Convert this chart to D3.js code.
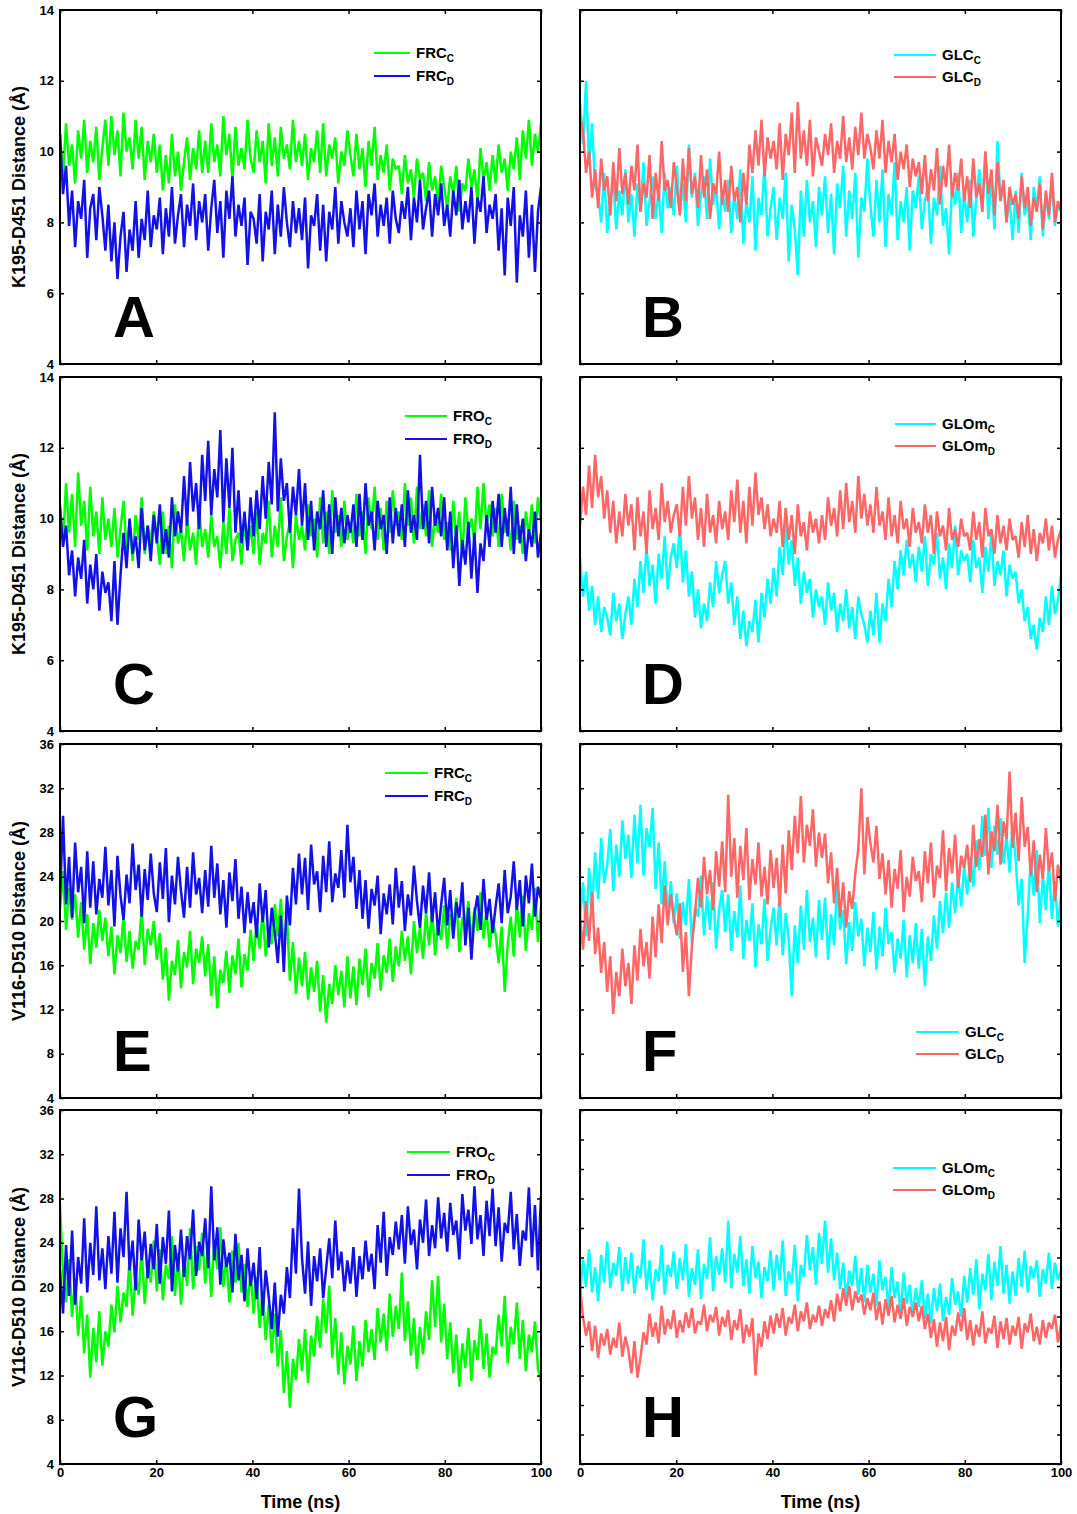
<!DOCTYPE html>
<html><head><meta charset="utf-8">
<script src="https://cdn.jsdelivr.net/npm/d3@7"></script>
<style>
body{margin:0;background:#fff}
text{font-family:"Liberation Sans",Arial,sans-serif;font-weight:bold;fill:#000}
</style>
</head><body>
<svg id="c" width="1077" height="1514"></svg>
<script>
// ---------- axes / labels ----------
const timeDomain = [0, 100];
const xTickValues = [0, 20, 40, 60, 80, 100];
const kDomain = [4, 14];
const kTicks = [4, 6, 8, 10, 12, 14];
const vDomain = [4, 36];
const vTicks = [4, 8, 12, 16, 20, 24, 28, 32, 36];
const yTitles = ["K195-D451 Distance (Å)", "K195-D451 Distance (Å)", "V116-D510 Distance (Å)", "V116-D510 Distance (Å)"];
const xTitle = "Time (ns)";
const panelLetters = ["A", "B", "C", "D", "E", "F", "G", "H"];
const legendNames = [["FRC","FRC"],["GLC","GLC"],["FRO","FRO"],["GLOm","GLOm"],["FRC","FRC"],["GLC","GLC"],["FRO","FRO"],["GLOm","GLOm"]];
const legendSubs = ["C", "D"];

// ---------- series (distance in Å, uniformly sampled over 0-100 ns) ----------
const frcC_A = [10.5,9.3,10.8,9.6,10.2,9.1,10.6,9.8,10.9,9.4,10.3,9.7,10.7,9.2,10.1,10.9,
9.6,11.0,9.9,10.6,9.3,11.1,10.0,10.4,9.5,10.9,9.8,10.7,9.2,10.3,9.7,10.5,
9.4,10.2,8.9,9.9,9.1,10.5,9.3,10.0,8.9,9.7,10.4,9.2,10.1,9.5,10.6,9.4,
10.3,9.4,10.8,9.7,10.2,9.3,11.0,9.9,10.5,9.2,10.7,9.6,10.1,9.5,10.9,9.8,
9.4,10.6,9.7,10.3,9.1,10.8,9.6,10.4,9.3,10.7,9.8,10.2,9.5,10.9,9.7,10.3,
9.6,10.5,9.2,10.1,9.7,10.6,9.4,10.8,9.3,10.2,9.8,10.4,9.1,10.0,9.6,10.6,
9.9,9.3,10.5,9.5,10.1,9.0,10.3,9.6,10.7,9.2,9.9,9.4,10.2,8.9,9.8,9.5,
9.6,8.8,9.9,9.1,9.5,8.7,9.8,9.2,9.4,8.6,9.7,8.9,9.3,8.5,9.6,9.0,
8.4,9.3,8.8,9.6,8.3,9.1,8.9,9.8,9.0,9.5,8.6,10.1,9.2,9.7,8.9,9.9,
9.1,10.2,9.4,9.8,8.9,10.0,9.5,10.4,9.2,10.6,9.8,10.9,9.6,10.5,10.0,10.8];
const frcD_A = [10.5,8.8,9.6,7.9,8.9,7.3,8.6,8.1,9.2,7.0,8.4,8.8,7.5,9.0,8.2,7.2,
8.5,6.9,8.0,6.4,7.6,8.3,6.6,7.8,7.2,8.6,7.0,8.1,7.5,8.9,7.3,8.2,
7.8,8.7,7.1,8.4,7.6,9.0,7.4,8.2,8.8,7.3,8.5,7.9,9.1,7.5,8.6,8.0,
8.8,7.2,8.4,9.2,7.7,8.6,7.0,8.9,8.1,9.3,7.6,8.5,7.9,8.7,6.8,8.3,
8.1,7.4,8.8,6.9,8.3,7.8,8.9,7.1,8.5,7.6,9.0,8.0,7.3,8.6,7.7,8.4,
7.5,8.7,6.7,8.2,7.9,8.8,7.2,8.5,6.9,8.3,7.8,9.0,7.4,8.6,8.0,7.6,
8.4,7.3,8.9,7.8,8.6,7.1,8.8,8.2,9.1,7.6,8.5,7.9,8.7,7.4,8.9,8.1,
7.7,8.6,8.1,9.0,7.5,8.7,8.0,9.2,7.8,8.4,8.9,7.6,8.8,8.2,9.1,7.9,
8.5,7.6,8.9,8.2,9.2,7.8,8.6,8.0,9.0,7.4,8.7,8.3,9.3,7.7,8.5,8.1,
8.8,7.2,8.4,6.5,8.7,7.9,9.0,6.3,8.2,7.6,8.9,7.0,8.5,6.6,8.3,9.0];
const glcC_B = [11.4,10.2,12.0,9.6,10.8,9.0,8.8,8.0,9.4,7.7,8.6,9.2,7.8,8.9,8.2,9.5,
8.0,8.8,7.6,9.1,8.3,9.7,7.9,8.6,9.3,8.1,8.9,7.7,9.4,8.4,9.0,8.2,
9.6,8.3,9.1,8.0,10.2,8.7,9.4,7.9,8.8,9.3,8.1,9.8,8.5,9.0,7.8,8.9,
8.3,9.2,7.7,8.8,8.1,9.5,7.4,8.6,8.0,9.3,7.2,8.7,8.2,9.6,7.6,8.4,
9.0,7.5,8.7,8.1,9.4,6.9,8.5,7.8,6.5,8.9,7.6,9.2,8.0,8.6,7.3,9.0,
8.2,9.3,7.7,8.8,7.1,9.1,8.4,9.6,7.6,8.9,8.1,9.4,7.0,8.7,8.3,9.8,
8.5,7.6,9.2,8.0,9.5,7.3,8.8,8.2,9.7,7.5,8.6,8.0,9.0,7.2,8.9,8.4,
9.3,7.8,8.6,9.0,7.4,8.7,8.2,9.6,7.9,8.4,7.1,9.1,8.5,9.4,7.7,8.8,
8.0,9.2,7.6,8.7,9.5,8.3,10.0,8.1,9.3,7.8,10.3,8.6,9.1,8.0,8.7,7.5,
8.9,7.7,9.4,8.2,8.6,7.5,9.0,8.4,9.3,7.6,8.8,8.1,9.2,7.9,8.5,8.3];
const glcD_B = [11.0,10.6,9.4,10.0,8.7,9.5,8.4,9.8,8.9,9.3,8.2,9.7,8.6,10.1,8.8,9.4,
8.5,9.6,8.9,10.2,8.3,9.1,8.7,9.9,8.1,9.4,8.6,10.3,8.9,9.2,8.4,9.7,
9.0,8.2,9.8,8.6,10.1,8.8,9.3,8.4,9.9,8.7,9.5,8.1,9.1,8.8,10.0,8.5,
9.2,8.3,9.6,8.6,9.0,8.0,9.4,8.5,10.2,9.4,10.6,9.6,10.9,9.3,10.4,9.8,
10.3,9.5,10.8,9.2,10.5,9.9,11.1,9.4,11.4,9.8,10.6,9.6,10.9,9.3,10.4,10.0,
9.6,10.5,9.9,10.8,9.4,10.3,9.8,11.0,9.7,10.4,9.5,10.7,9.9,11.1,9.8,10.5,
10.1,9.5,10.6,9.8,10.9,9.4,10.3,9.7,10.5,9.2,10.0,9.5,10.2,9.0,9.8,9.3,
9.7,8.8,9.9,8.6,9.5,8.9,10.1,8.5,9.6,9.0,10.2,8.7,9.4,8.9,9.8,8.6,
9.3,8.4,9.8,8.7,9.1,8.3,10.0,8.8,9.5,8.2,9.7,8.6,9.2,8.0,9.0,8.5,
8.8,8.1,9.3,8.4,9.0,7.9,8.7,8.3,9.1,7.8,8.9,8.2,9.4,8.0,8.6,8.3];
const froC_C = [10.4,9.3,11.0,9.6,10.7,9.2,11.3,9.8,10.5,9.1,10.9,9.5,10.2,9.0,10.6,9.4,
10.0,9.2,10.3,8.9,9.7,10.5,9.1,9.9,8.8,10.1,9.4,10.6,9.0,9.8,9.3,10.2,
9.5,8.7,10.2,9.0,9.8,8.6,10.4,9.3,9.7,8.8,10.0,9.1,9.6,8.7,10.3,9.2,
9.7,8.9,10.1,9.2,9.5,8.6,9.9,9.0,10.3,8.8,9.4,9.6,8.7,10.0,9.1,9.8,
9.0,10.2,8.7,9.6,9.3,10.5,8.9,9.8,9.2,10.6,8.8,9.5,9.9,8.6,10.1,9.4,
9.8,9.1,10.4,9.5,10.0,8.9,10.6,9.3,10.2,9.0,10.8,9.6,10.1,9.2,10.5,9.4,
9.9,9.3,10.7,9.5,10.2,9.0,10.6,9.7,10.9,9.4,10.3,9.1,10.5,9.6,10.8,9.8,
10.2,9.4,11.0,9.8,10.6,9.3,10.9,9.7,10.4,9.5,10.8,9.2,10.1,9.6,10.7,9.4,
9.9,9.1,10.5,9.4,10.2,8.9,10.6,9.6,10.0,9.3,10.9,9.7,11.0,9.8,10.4,9.5,
10.3,9.2,10.7,9.6,10.0,9.1,10.5,9.4,9.8,9.0,10.2,9.5,10.4,9.3,10.6,9.9];
const froD_C = [10.3,9.2,9.8,8.4,9.1,7.8,8.9,8.3,9.4,7.6,8.7,8.0,9.0,7.4,8.5,7.9,
8.2,7.1,8.8,7.0,8.4,9.6,8.6,10.0,9.0,9.5,8.6,10.3,9.1,9.8,8.8,10.1,
9.3,10.4,9.0,9.7,8.9,10.6,9.5,10.2,9.6,11.2,9.8,11.6,10.2,11.0,9.7,11.8,
10.5,12.2,10.1,11.4,10.6,12.5,9.9,11.7,10.3,12.0,9.6,10.8,9.3,10.2,9.1,10.6,
9.5,10.8,9.7,11.2,10.0,11.6,10.4,13.0,10.2,11.7,10.5,11.0,9.6,10.9,10.1,11.4,
9.8,11.0,9.4,10.5,9.1,10.2,9.7,10.8,9.2,10.4,9.0,10.6,9.5,10.3,9.3,10.1,
9.6,10.4,9.2,10.7,9.4,11.0,9.8,10.2,9.1,10.5,9.7,10.1,9.0,10.6,9.3,10.3,
9.5,10.4,9.2,10.8,9.6,10.1,9.4,11.8,9.7,10.5,9.3,10.9,9.8,10.3,9.5,10.6,
9.1,10.2,8.6,9.8,8.1,9.4,8.7,9.9,8.3,9.6,7.9,9.3,8.8,10.1,9.2,10.5,
9.6,10.7,9.2,10.3,9.5,10.9,9.0,10.4,9.3,10.0,8.8,9.7,9.2,10.2,8.9,9.6];
const glomC_D = [8.9,7.8,8.5,7.4,8.1,7.0,7.8,6.8,7.5,7.2,6.7,7.9,7.1,7.6,6.6,7.3,
7.8,7.0,8.3,7.5,8.8,7.9,9.2,8.1,8.7,7.6,9.0,8.3,9.5,8.0,8.9,9.3,
8.6,9.8,8.2,9.1,7.8,8.5,7.2,8.0,6.9,7.6,7.1,8.2,7.5,8.8,7.9,8.4,
8.8,7.6,8.2,7.0,7.8,6.6,7.4,6.4,7.1,6.8,7.7,6.5,7.9,7.2,8.3,7.6,
8.6,7.8,9.2,8.4,9.9,8.7,9.4,8.1,8.9,7.6,8.5,7.9,8.3,7.2,8.0,7.5,
7.8,7.0,8.2,7.4,7.9,6.8,7.6,7.1,8.0,6.9,7.5,6.6,7.8,7.3,7.0,6.5,
7.4,6.7,7.9,6.5,7.6,7.1,8.3,7.5,8.8,8.0,9.1,8.4,9.4,8.6,9.0,8.2,
9.2,8.5,9.5,8.1,9.0,8.7,9.6,8.3,8.9,8.0,9.3,8.6,9.8,8.4,9.1,8.8,
9.0,8.2,9.4,8.6,8.9,7.9,9.2,8.5,9.6,8.1,8.8,8.4,9.1,7.8,8.7,8.3,
8.5,7.6,8.0,7.1,7.5,6.6,7.0,6.3,7.2,6.8,7.8,7.0,8.1,7.3,7.7,8.4];
const glomD_D = [9.8,10.9,10.1,11.5,10.3,11.8,10.6,11.2,10.0,10.8,9.6,10.5,9.3,10.2,9.5,10.7,
9.8,10.4,9.1,10.6,9.5,10.2,9.0,10.8,9.7,10.3,9.4,11.0,9.9,10.5,9.6,10.1,
10.4,9.5,10.9,9.8,11.2,10.0,10.6,9.4,10.3,9.2,10.7,9.6,10.1,9.3,10.5,9.7,
10.2,9.4,10.8,9.9,11.1,9.6,10.5,9.3,10.9,9.8,11.3,10.1,10.6,9.7,10.4,9.5,
10.0,9.6,10.5,9.2,10.3,9.4,10.1,9.0,10.4,9.5,9.9,9.1,10.2,9.6,10.0,9.3,
10.1,9.4,10.6,9.8,10.3,9.5,10.8,9.7,11.0,9.9,10.5,9.6,11.2,10.0,10.7,9.8,
10.4,9.6,10.9,9.8,10.2,9.4,10.6,9.5,10.1,9.3,10.5,9.7,10.0,9.2,10.3,9.6,
9.9,9.3,10.4,9.6,10.1,9.0,10.2,9.5,9.8,9.1,10.3,9.4,9.7,9.2,10.0,9.5,
9.6,9.1,10.2,9.4,9.9,8.9,10.3,9.5,9.7,9.0,10.1,9.3,9.8,9.1,10.0,9.4,
9.5,8.9,9.9,9.2,10.1,9.0,9.7,8.8,9.6,9.3,10.0,9.1,9.8,8.9,9.4,9.7];
const frcC_E = [21.0,24.5,19.2,23.0,20.1,22.4,18.5,21.7,17.4,20.6,16.1,19.8,17.6,21.0,18.2,20.3,
16.8,19.5,15.2,18.7,17.1,20.4,16.3,19.1,15.7,18.2,17.4,21.2,16.0,19.3,17.8,20.0,
16.5,18.9,14.7,17.6,12.8,16.4,15.1,18.3,13.9,17.2,15.8,19.1,14.3,17.5,16.2,18.6,
15.0,17.9,13.2,16.8,12.1,15.6,14.4,17.3,13.5,16.9,15.2,18.4,14.0,17.0,15.5,19.2,
16.4,19.8,17.5,20.9,16.8,19.3,17.9,21.5,18.6,22.0,17.2,20.6,14.6,18.1,13.4,16.7,
14.1,17.2,12.9,15.8,13.6,16.4,11.8,15.1,10.8,14.3,12.5,16.0,13.3,15.5,12.2,16.8,
13.0,15.9,12.4,16.6,14.2,17.5,13.1,16.2,14.8,18.0,13.7,16.9,15.3,18.4,14.5,17.7,
15.9,19.1,16.4,18.6,15.2,20.0,17.1,19.5,16.6,20.8,17.8,21.1,16.9,19.7,18.3,21.4,
17.5,20.6,18.8,22.1,17.2,20.3,19.4,21.8,18.0,21.2,19.1,22.6,18.4,20.9,17.6,20.1,
18.8,16.2,19.5,13.6,17.9,20.4,16.8,21.6,18.5,22.3,17.3,20.7,19.2,23.0,18.1,21.3];
const frcD_E = [22.0,29.5,21.5,25.8,20.3,27.1,22.6,24.9,19.8,26.3,21.2,25.4,20.6,23.8,22.1,26.7,
21.4,24.6,19.5,25.9,22.3,20.1,24.2,21.6,27.0,22.8,25.1,20.4,24.7,21.9,26.1,22.5,
20.8,25.3,22.0,26.6,19.9,24.1,21.5,25.8,22.7,20.3,24.9,21.2,26.2,22.4,23.9,20.7,
24.6,21.3,26.8,22.1,25.2,20.6,23.7,19.4,24.4,21.8,25.6,20.2,23.1,18.9,22.6,19.8,
21.7,18.5,23.4,19.9,22.8,17.6,21.2,19.0,16.2,20.5,15.4,22.3,19.6,24.8,21.5,26.1,
22.4,25.7,21.0,26.9,23.3,24.5,20.8,25.9,22.6,27.2,21.7,24.3,23.0,26.4,22.1,28.7,
23.5,25.8,21.1,24.6,20.2,23.7,19.3,22.9,21.4,24.1,18.8,22.5,20.6,23.3,19.7,24.8,
21.2,23.6,19.1,22.4,20.5,25.0,21.8,19.4,23.2,20.7,24.4,19.9,22.6,18.7,21.5,23.9,
19.6,22.8,18.4,21.7,20.3,23.5,17.8,21.2,16.5,20.6,22.3,19.2,23.8,20.1,22.0,18.9,
21.3,23.4,19.8,24.6,20.7,22.2,25.4,21.0,23.7,19.5,24.1,21.6,25.2,20.4,23.1,22.0];
const glcC_F = [20.2,23.5,18.6,24.8,21.3,26.2,22.0,27.5,23.4,25.1,28.3,22.7,26.9,24.0,29.1,25.6,
27.8,23.9,29.6,25.2,30.5,24.1,28.4,26.7,30.2,22.9,27.1,21.5,25.4,20.3,23.6,19.8,
22.5,18.4,21.7,19.6,23.8,17.9,21.2,20.4,24.1,18.7,22.3,19.2,23.5,17.5,21.0,22.8,
19.0,22.4,17.3,20.9,18.5,23.2,16.6,20.1,18.2,21.6,15.8,19.7,17.9,22.0,16.4,19.3,
21.2,17.8,22.5,16.9,20.7,18.4,13.2,19.6,16.2,21.4,17.4,22.8,18.1,20.3,16.7,21.9,
18.3,22.1,16.5,20.6,17.8,23.4,19.2,21.0,16.1,19.9,17.3,21.7,18.6,20.2,15.9,19.4,
17.2,20.8,15.6,19.5,16.8,21.2,17.9,19.0,15.3,18.4,16.6,20.1,14.9,18.7,16.2,19.8,
15.7,19.3,14.1,18.6,16.4,20.5,17.5,21.8,18.9,22.6,19.4,23.5,20.7,24.2,21.3,25.0,
22.4,25.8,23.1,27.3,24.6,29.5,25.9,30.2,24.8,28.6,26.0,29.3,25.2,27.7,24.4,28.9,
25.6,21.4,23.8,16.2,20.5,25.7,22.3,26.4,19.8,24.1,21.0,25.3,20.2,23.6,19.5,22.4];
const glcD_F = [20.5,17.4,21.8,18.2,22.6,17.0,19.4,15.3,18.1,13.6,16.8,11.6,15.4,13.2,17.5,14.1,
16.2,12.5,17.8,14.6,19.3,15.9,18.1,14.8,20.4,16.7,21.5,18.0,23.2,19.6,22.4,20.3,
18.7,21.6,15.4,19.0,13.2,17.8,20.6,23.9,21.2,25.8,22.4,24.6,21.0,26.3,23.1,27.2,
22.6,31.4,24.0,27.5,22.1,26.8,23.7,28.4,21.9,25.6,23.3,27.1,22.2,24.9,21.5,26.4,
23.0,25.7,21.3,26.9,22.5,28.2,24.6,29.5,26.1,31.3,25.3,28.7,26.8,30.1,24.9,28.0,
25.7,27.9,23.4,26.2,21.6,24.8,20.3,23.5,19.4,22.7,21.1,24.3,26.5,32.0,24.2,29.4,
27.0,25.3,28.6,23.8,26.1,22.4,25.5,21.2,24.7,22.9,26.4,20.8,24.0,22.2,25.8,23.6,
24.5,21.7,26.3,23.4,27.1,22.1,25.0,23.9,28.2,22.7,26.6,24.3,27.8,23.0,25.9,24.8,
26.9,23.5,28.7,24.9,27.4,25.8,29.6,24.2,28.1,26.3,30.5,25.1,29.0,27.4,33.5,26.6,
29.8,25.4,31.2,26.7,28.5,24.1,27.3,22.6,26.0,23.8,28.4,24.5,26.2,21.8,25.1,23.4];
const froC_G = [27.4,21.2,18.6,22.5,17.3,20.8,15.6,19.2,14.0,17.5,11.8,16.3,13.2,17.8,12.9,16.0,
14.6,18.4,15.9,20.1,16.8,19.5,18.2,22.6,17.4,21.0,19.3,23.5,18.5,22.1,20.4,24.2,
19.6,23.4,18.8,22.0,20.7,24.6,19.2,23.1,18.4,22.8,20.1,25.3,19.8,23.7,21.5,24.9,
20.3,23.8,19.1,24.2,21.6,25.4,20.0,22.7,18.6,23.3,20.4,24.0,19.5,22.1,18.2,21.4,
17.6,20.9,16.3,19.5,15.2,18.4,14.0,17.6,12.8,16.1,10.4,14.2,9.1,13.5,11.6,15.3,
12.4,16.2,11.3,15.6,13.7,17.4,14.5,18.9,15.8,20.1,13.6,17.2,12.1,15.9,11.2,14.7,
13.0,16.5,11.5,15.1,12.8,17.0,14.1,16.2,13.4,18.1,15.0,17.6,14.2,19.4,15.5,18.3,
16.2,21.3,15.1,18.7,13.8,17.2,12.6,16.4,13.9,17.8,15.2,20.6,16.4,21.0,15.0,18.5,
13.5,16.8,12.2,15.7,11.0,14.9,12.7,16.3,11.5,15.2,13.4,17.1,12.6,15.8,11.8,14.6,
13.9,17.5,14.6,19.2,13.1,16.4,14.8,18.6,13.5,17.0,12.4,15.7,14.1,16.9,12.6,11.4];
const froD_G = [21.5,17.6,23.8,19.2,25.1,18.4,22.7,20.3,26.2,19.5,24.0,21.1,27.3,20.6,23.5,19.8,
24.6,21.2,26.8,20.4,25.3,22.7,28.6,21.5,24.2,19.7,26.1,22.4,25.0,20.8,23.9,21.6,
25.7,20.3,24.5,22.1,26.9,19.6,23.8,21.4,25.2,20.9,24.6,22.5,27.0,21.0,24.1,22.8,
26.2,21.7,29.1,22.4,25.4,20.2,24.3,21.8,23.1,19.5,24.8,20.6,22.9,18.7,23.5,20.1,
22.2,18.9,23.6,17.4,21.5,19.1,16.2,20.4,15.5,19.3,17.6,21.8,19.0,25.3,21.2,28.9,
22.6,19.4,24.1,18.3,22.8,20.5,23.5,19.0,21.7,24.4,20.8,26.0,21.5,23.2,19.6,22.4,
20.3,23.6,19.1,22.8,20.7,24.2,21.4,23.0,19.8,25.6,22.2,26.8,21.0,24.5,22.9,25.9,
23.4,26.5,22.1,27.3,23.8,25.2,21.6,26.1,24.0,27.9,22.8,25.6,23.5,28.1,24.4,26.7,
23.2,27.6,24.7,26.0,22.5,28.4,25.1,27.0,23.9,29.1,24.3,26.5,22.8,27.8,24.6,28.9,
23.7,27.2,22.3,25.8,24.9,28.6,23.4,26.6,21.9,25.1,24.2,29.0,22.7,27.4,21.5,28.3];
const glomC_H = [19.2,22.5,20.0,23.4,19.5,21.8,18.7,22.9,20.4,24.1,19.9,22.2,21.0,23.6,19.6,22.7,
20.3,23.1,19.4,21.9,20.8,24.3,19.7,22.4,18.8,21.6,20.5,23.8,19.3,22.0,20.9,23.2,
19.8,22.6,20.6,23.9,19.1,21.7,20.2,23.4,18.9,22.1,20.7,24.5,19.6,22.8,21.1,23.5,
20.4,26.0,19.9,23.0,21.3,24.6,20.1,22.5,19.4,23.7,20.8,22.3,19.0,21.8,20.5,23.3,
19.7,22.9,20.6,24.2,19.2,21.4,20.3,23.8,18.7,22.0,20.9,24.7,21.5,23.6,20.2,24.9,
22.1,26.0,21.3,24.4,20.6,23.1,19.8,22.2,18.9,21.5,20.1,22.8,19.3,21.7,18.6,22.0,
19.5,21.2,18.3,22.4,19.7,20.9,18.1,21.8,19.0,20.5,17.6,21.3,18.5,20.2,17.4,19.9,
18.2,20.6,17.1,19.4,16.7,19.9,17.8,20.3,16.9,19.1,17.5,20.8,18.4,19.6,17.3,21.0,
18.6,21.7,19.3,22.5,18.0,21.2,19.7,23.0,18.8,22.3,20.1,23.7,19.4,22.0,18.5,21.4,
19.2,22.6,20.0,23.3,19.5,21.9,20.8,22.4,19.1,21.6,20.3,23.1,19.8,22.2,20.6,21.5];
const glomD_H = [20.0,17.3,15.6,16.9,14.2,16.5,13.6,15.8,14.7,16.2,13.9,15.4,14.5,16.8,13.7,15.5,
14.3,12.2,15.1,11.8,13.6,15.9,14.8,17.6,15.5,16.8,14.9,18.3,15.7,17.1,16.2,17.9,
15.4,17.0,15.9,17.7,16.3,18.1,15.8,16.9,16.6,18.4,16.0,17.5,16.8,18.2,15.6,17.3,
16.4,17.9,15.2,17.0,16.1,18.0,14.9,16.6,15.5,17.2,12.0,15.8,14.6,16.9,15.3,17.4,
15.8,17.6,16.3,18.1,15.6,17.3,16.7,18.4,16.0,17.8,16.9,18.6,16.2,17.5,16.8,18.3,
16.5,18.0,17.2,18.8,16.9,19.4,17.8,19.9,18.3,20.1,17.9,19.6,18.6,19.3,17.5,19.0,
17.9,19.5,17.0,18.7,16.6,18.9,17.4,19.2,16.8,18.4,17.1,19.0,16.5,18.2,17.3,18.6,
16.9,18.3,16.2,17.6,15.4,17.1,14.6,16.8,15.1,17.3,14.3,16.5,15.6,17.7,16.0,18.1,
15.2,17.0,14.7,16.6,15.5,17.8,14.9,16.3,15.8,17.4,14.5,16.9,15.3,17.2,14.8,16.5,
15.6,17.3,14.4,16.7,15.9,17.6,15.1,16.4,14.8,17.0,15.4,16.8,16.2,17.5,15.0,16.6];

// ---------- styling / layout ----------
const GREEN = "#00ff00", BLUE = "#1212e8", CYAN = "#00ffff", RED = "#ff6666";
const colX = [60, 580], rowY = [10, 377, 744, 1110], PW = 481, PH = 354;

const panels = [
  {col:0,row:0,domain:kDomain,ticks:kTicks,series:[frcC_A,frcD_A],colors:[GREEN,BLUE],leg:[374,53,23,36]},
  {col:1,row:0,domain:kDomain,ticks:kTicks,series:[glcC_B,glcD_B],colors:[CYAN,RED],leg:[894,55,22,42]},
  {col:0,row:1,domain:kDomain,ticks:kTicks,series:[froC_C,froD_C],colors:[GREEN,BLUE],leg:[405,416,23,42]},
  {col:1,row:1,domain:kDomain,ticks:kTicks,series:[glomC_D,glomD_D],colors:[CYAN,RED],leg:[895,424,22,41]},
  {col:0,row:2,domain:vDomain,ticks:vTicks,series:[frcC_E,frcD_E],colors:[GREEN,BLUE],leg:[385,773,23,43]},
  {col:1,row:2,domain:vDomain,ticks:vTicks,series:[glcC_F,glcD_F],colors:[CYAN,RED],leg:[916,1032,22,43]},
  {col:0,row:3,domain:vDomain,ticks:vTicks,series:[froC_G,froD_G],colors:[GREEN,BLUE],leg:[407,1152,23,43]},
  {col:1,row:3,domain:vDomain,ticks:vTicks,series:[glomC_H,glomD_H],colors:[CYAN,RED],leg:[893,1168,22,43],tickCount:12}
];

const svg = d3.select("#c");
const defs = svg.append("defs");

panels.forEach((p, pi) => {
  const x0 = colX[p.col], y0 = rowY[p.row];
  const x = d3.scaleLinear().domain(timeDomain).range([x0, x0 + PW]);
  const y = d3.scaleLinear().domain(p.domain).range([y0 + PH, y0]);
  const g = svg.append("g");
  const cid = "clip" + pi;
  defs.append("clipPath").attr("id", cid).append("rect")
    .attr("x", x0).attr("y", y0).attr("width", PW).attr("height", PH);

  p.series.forEach((data, si) => {
    const n = data.length;
    const line = d3.line()
      .x((d, i) => x(timeDomain[0] + i * (timeDomain[1] - timeDomain[0]) / (n - 1)))
      .y(d => y(d));
    g.append("path").attr("clip-path", `url(#${cid})`)
      .attr("d", line(data)).attr("fill", "none")
      .attr("stroke", p.colors[si]).attr("stroke-width", 2.5)
      .attr("stroke-linejoin", "miter").attr("stroke-miterlimit", 2);
  });

  // tick-mark scale (panel H has its own finer tick spacing, no labels)
  let tickY = y, tickVals = p.ticks;
  if (p.tickCount) {
    tickY = d3.scaleLinear().domain([0, p.tickCount]).range([y0 + PH, y0]);
    tickVals = d3.range(0, p.tickCount + 1);
  }
  const showY = p.col === 0;
  const axL = g.append("g").attr("transform", `translate(${x0},0)`)
    .call(d3.axisLeft(tickY).tickValues(tickVals).tickSize(-4).tickPadding(6)
      .tickFormat(showY ? d3.format("d") : () => ""));
  const axR = g.append("g").attr("transform", `translate(${x0 + PW},0)`)
    .call(d3.axisRight(tickY).tickValues(tickVals).tickSize(-4).tickFormat(() => ""));
  const axT = g.append("g").attr("transform", `translate(0,${y0})`)
    .call(d3.axisTop(x).tickValues(xTickValues).tickSize(-4).tickFormat(() => ""));
  const showX = p.row === 3;
  const axB = g.append("g").attr("transform", `translate(0,${y0 + PH})`)
    .call(d3.axisBottom(x).tickValues(xTickValues).tickSize(-4).tickPadding(4)
      .tickFormat(showX ? d3.format("d") : () => ""));
  [axL, axR, axT, axB].forEach(a => {
    a.select(".domain").remove();
    a.selectAll(".tick line").attr("stroke", "#000").attr("stroke-width", 1.5);
    a.selectAll(".tick text").style("font-family", '"Liberation Sans",Arial,sans-serif')
      .style("font-weight", "bold").style("font-size", "13px").attr("fill", "#000");
  });

  // frame
  g.append("rect").attr("x", x0).attr("y", y0).attr("width", PW).attr("height", PH)
    .attr("fill", "none").attr("stroke", "#000").attr("stroke-width", 2);

  // panel letter
  g.append("text").attr("x", x0 + (p.col === 0 ? 53 : 62)).attr("y", y0 + PH - 27)
    .style("font-size", "58px").text(panelLetters[pi]);

  // legend
  const [lx, ly, gap, len] = p.leg;
  [0, 1].forEach(k => {
    const yy = ly + k * gap;
    g.append("line").attr("x1", lx).attr("x2", lx + len).attr("y1", yy).attr("y2", yy)
      .attr("stroke", p.colors[k]).attr("stroke-width", 2);
    const t = g.append("text").attr("x", lx + len + 6).attr("y", yy + 5).style("font-size", "15px");
    t.append("tspan").text(legendNames[pi][k]);
    t.append("tspan").attr("dy", 4).style("font-size", "10px").text(legendSubs[k]);
  });

  // y title
  if (p.col === 0) {
    svg.append("text")
      .attr("transform", `translate(25,${y0 + PH / 2}) rotate(-90)`)
      .attr("text-anchor", "middle").style("font-size", "18px")
      .text(yTitles[p.row]);
  }
  if (p.row === 3) {
    svg.append("text").attr("x", x0 + PW / 2).attr("y", 1508)
      .attr("text-anchor", "middle").style("font-size", "18px").text(xTitle);
  }
});
</script>
</body></html>
